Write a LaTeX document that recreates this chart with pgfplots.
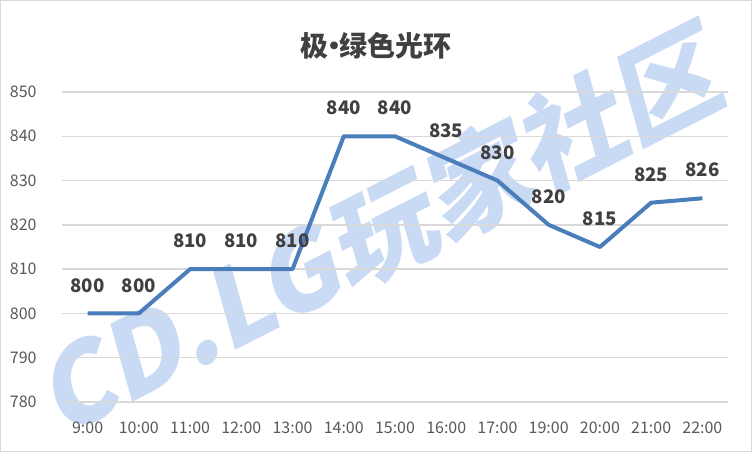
\documentclass[border=0pt]{standalone}
\usepackage{fontspec}
\setmainfont{Noto Sans CJK SC}
\usepackage{pgfplots}
\pgfplotsset{compat=1.18}
\definecolor{linecol}{RGB}{74,126,187}
\definecolor{gridcol}{RGB}{217,217,217}
\definecolor{txt}{RGB}{89,89,89}
\definecolor{lbl}{RGB}{64,64,64}
\definecolor{wm}{RGB}{200,218,244}
\begin{document}
\begin{tikzpicture}
\path[use as bounding box] (0,0) rectangle (564pt,339pt);
\fill[white] (0,0) rectangle (564pt,339pt);
\node[rotate=27, text=wm, font=\fontsize{80}{80}\selectfont\bfseries, xslant=0.2] at (288pt,168pt) {CD.LG玩家社区};
\draw[gridcol, line width=0.75pt] (0.4pt,0.4pt) rectangle (563.6pt,338.6pt);
\node[text=lbl, font=\fontsize{21}{24}\selectfont\bfseries] at (282pt,305pt) {极\kern-0.3em•\kern-0.3em绿色光环};
\begin{axis}[
  at={(46.5pt,37.5pt)}, anchor=south west,
  scale only axis, width=499.5pt, height=232.5pt,
  xmin=-0.5, xmax=12.5, ymin=780, ymax=850,
  ytick={780,790,...,850},
  xtick={0,...,12},
  xticklabels={9:00,10:00,11:00,12:00,13:00,14:00,15:00,16:00,17:00,19:00,20:00,21:00,22:00},
  axis line style={draw=none},
  ymajorgrids, grid style={gridcol, line width=1.1pt},
  major tick length=0pt,
  ticklabel style={text=txt, font=\fontsize{12}{14}\selectfont},
  /pgf/number format/assume math mode=true,
  yticklabel style={anchor=east, xshift=-15.5pt},
  xticklabel style={anchor=center, yshift=-19pt},
  clip=false,
  nodes near coords,
  every node near coord/.append style={anchor=south, yshift=11pt, text=lbl, font=\fontsize{14}{16}\selectfont\bfseries},
]
\addplot[linecol, line width=3pt, line join=round, no markers] coordinates {
(0,800) (1,800) (2,810) (3,810) (4,810) (5,840) (6,840) (7,835) (8,830) (9,820) (10,815) (11,825) (12,826)
};
\end{axis}
\end{tikzpicture}
\end{document}
